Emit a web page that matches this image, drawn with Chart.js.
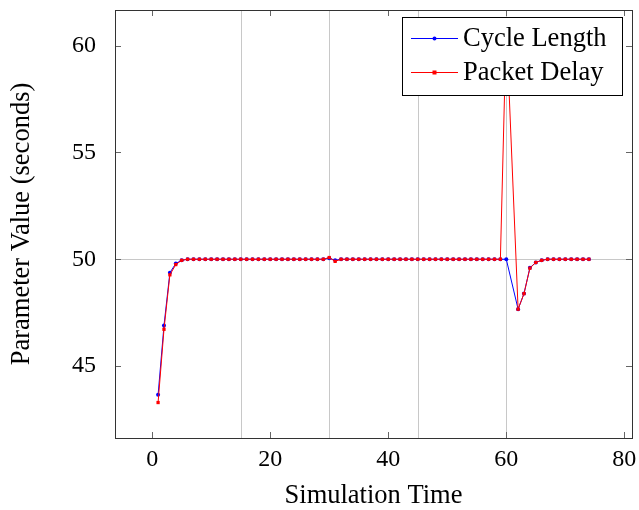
<!DOCTYPE html>
<html>
<head>
<meta charset="utf-8">
<script src="https://cdn.jsdelivr.net/npm/chart.js@4/dist/chart.umd.min.js"></script>
<style>
html,body{margin:0;padding:0;background:#fff;}
#wrap{width:639px;height:510px;position:relative;}
</style>
</head>
<body>
<div id="wrap"><canvas id="c" width="639" height="510"></canvas></div>
<script>
// ---- data ----
const simTime = [];
for (let t = 1; t <= 74; t++) simTime.push(t);

const cycleLength = [
  43.65, 46.9, 49.37, 49.8, 49.95, 50, 50, 50, 50, 50,
  50, 50, 50, 50, 50, 50, 50, 50, 50, 50,
  50, 50, 50, 50, 50, 50, 50, 50, 50, 50.05,
  49.95, 50, 50, 50, 50, 50, 50, 50, 50, 50,
  50, 50, 50, 50, 50, 50, 50, 50, 50, 50,
  50, 50, 50, 50, 50, 50, 50, 50, 50, 50,
  null, 47.66, 48.39, 49.6, 49.85, 49.95, 50, 50, 50, 50,
  50, 50, 50, 50
];
const packetDelay = [
  43.29, 46.72, 49.27, 49.75, 49.95, 50, 50, 50, 50, 50,
  50, 50, 50, 50, 50, 50, 50, 50, 50, 50,
  50, 50, 50, 50, 50, 50, 50, 50, 50, 50.08,
  49.9, 50, 50, 50, 50, 50, 50, 50, 50, 50,
  50, 50, 50, 50, 50, 50, 50, 50, 50, 50,
  50, 50, 50, 50, 50, 50, 50, 50, 50, 61.0,
  null, 47.66, 48.39, 49.58, 49.85, 49.95, 50, 50, 50, 50,
  50, 50, 50, 50
];
const xTicks = [0, 20, 40, 60, 80];
const yTicks = [45, 50, 55, 60];
const xGridLines = [15, 30, 45, 60];
const yGridLines = [50];
const seriesNames = ['Cycle Length', 'Packet Delay'];

const SERIF = '"Liberation Serif", "DejaVu Serif", serif';

const toXY = (arr) => simTime.map((t, i) => ({x: t, y: arr[i]}));

const framePlugin = {
  id: 'frame',
  beforeDatasetsDraw(chart) {
    const {ctx, chartArea: a, scales: {x, y}} = chart;
    ctx.save();
    ctx.strokeStyle = '#c8c8c8';
    ctx.lineWidth = 1;
    xGridLines.forEach(v => {
      const px = Math.round(x.getPixelForValue(v)) + 0.5;
      ctx.beginPath(); ctx.moveTo(px, a.top); ctx.lineTo(px, a.bottom); ctx.stroke();
    });
    yGridLines.forEach(v => {
      const py = Math.round(y.getPixelForValue(v)) + 0.5;
      ctx.beginPath(); ctx.moveTo(a.left, py); ctx.lineTo(a.right, py); ctx.stroke();
    });
    ctx.restore();
  },
  afterDatasetsDraw(chart) {
    const {ctx, chartArea: a, scales: {x, y}} = chart;
    ctx.save();
    ctx.strokeStyle = '#666';
    ctx.lineWidth = 1;
    const tl = 6;
    xTicks.forEach(v => {
      const px = Math.round(x.getPixelForValue(v)) + 0.5;
      ctx.beginPath();
      ctx.moveTo(px, a.bottom); ctx.lineTo(px, a.bottom - tl);
      ctx.moveTo(px, a.top); ctx.lineTo(px, a.top + tl);
      ctx.stroke();
    });
    yTicks.forEach(v => {
      const py = Math.round(y.getPixelForValue(v)) + 0.5;
      ctx.beginPath();
      ctx.moveTo(a.left, py); ctx.lineTo(a.left + tl, py);
      ctx.moveTo(a.right, py); ctx.lineTo(a.right - tl, py);
      ctx.stroke();
    });
    ctx.strokeStyle = '#333';
    ctx.strokeRect(Math.round(a.left) + 0.5, Math.round(a.top) + 0.5,
                   Math.round(a.right - a.left), Math.round(a.bottom - a.top));

    // legend box
    const bx = 402.5, by = 17.5, bw = 220, bh = 78;
    ctx.fillStyle = '#fff';
    ctx.fillRect(bx, by, bw, bh);
    ctx.strokeStyle = '#000';
    ctx.strokeRect(bx, by, bw, bh);
    const rows = [
      {name: seriesNames[0], color: '#0000ff', shape: 'circle', cy: 38},
      {name: seriesNames[1], color: '#ff0000', shape: 'rect', cy: 72}
    ];
    ctx.font = '26.5px ' + SERIF;
    ctx.textBaseline = 'middle';
    rows.forEach(r => {
      ctx.strokeStyle = r.color;
      ctx.fillStyle = r.color;
      ctx.beginPath(); ctx.moveTo(411, r.cy + 0.5); ctx.lineTo(458, r.cy + 0.5); ctx.stroke();
      if (r.shape === 'circle') {
        ctx.beginPath(); ctx.arc(434.5, r.cy + 0.5, 2, 0, Math.PI * 2); ctx.fill();
      } else {
        ctx.fillRect(432.5, r.cy - 1.5, 4, 4);
      }
      ctx.fillStyle = '#000';
      ctx.fillText(r.name, 463, r.cy + 1);
    });
    ctx.restore();
  }
};

new Chart(document.getElementById('c'), {
  type: 'line',
  data: {
    datasets: [
      {
        label: seriesNames[0], data: toXY(cycleLength),
        borderColor: '#0000ff', backgroundColor: '#0000ff',
        borderWidth: 1, pointRadius: 2, pointStyle: 'circle', pointBorderWidth: 0,
        spanGaps: true, order: 1, tension: 0
      },
      {
        label: seriesNames[1], data: toXY(packetDelay),
        borderColor: '#ff0000', backgroundColor: '#ff0000',
        borderWidth: 1, pointRadius: 2.3, pointStyle: 'rect', pointBorderWidth: 0,
        spanGaps: true, order: 0, tension: 0
      }
    ]
  },
  options: {
    responsive: false,
    animation: false,
    events: [],
    layout: {padding: {top: 10, right: 7, left: 6, bottom: 0}},
    plugins: {legend: {display: false}, tooltip: {enabled: false}},
    scales: {
      x: {
        type: 'linear', min: -6.3, max: 81.3,
        afterBuildTicks: s => { s.ticks = xTicks.map(v => ({value: v})); },
        afterFit: s => { s.height = 72; s.paddingLeft = 0; s.paddingRight = 0; },
        grid: {display: false, drawTicks: false},
        border: {display: false},
        ticks: {color: '#000', font: {family: SERIF, size: 24}, padding: 7, maxRotation: 0},
        title: {display: true, text: 'Simulation Time', color: '#000',
                font: {family: SERIF, size: 26.5}, padding: {top: 6, bottom: -2}}
      },
      y: {
        type: 'linear', min: 41.63, max: 61.67,
        afterBuildTicks: s => { s.ticks = yTicks.map(v => ({value: v})); },
        afterFit: s => { s.width = 109; s.paddingTop = 0; s.paddingBottom = 0; },
        grid: {display: false, drawTicks: false},
        border: {display: false},
        ticks: {color: '#000', font: {family: SERIF, size: 24}, padding: 19},
        title: {display: true, text: 'Parameter Value (seconds)', color: '#000',
                font: {family: SERIF, size: 26.5}, padding: {top: 0, bottom: 0}}
      }
    }
  },
  plugins: [framePlugin]
});
</script>
</body>
</html>
